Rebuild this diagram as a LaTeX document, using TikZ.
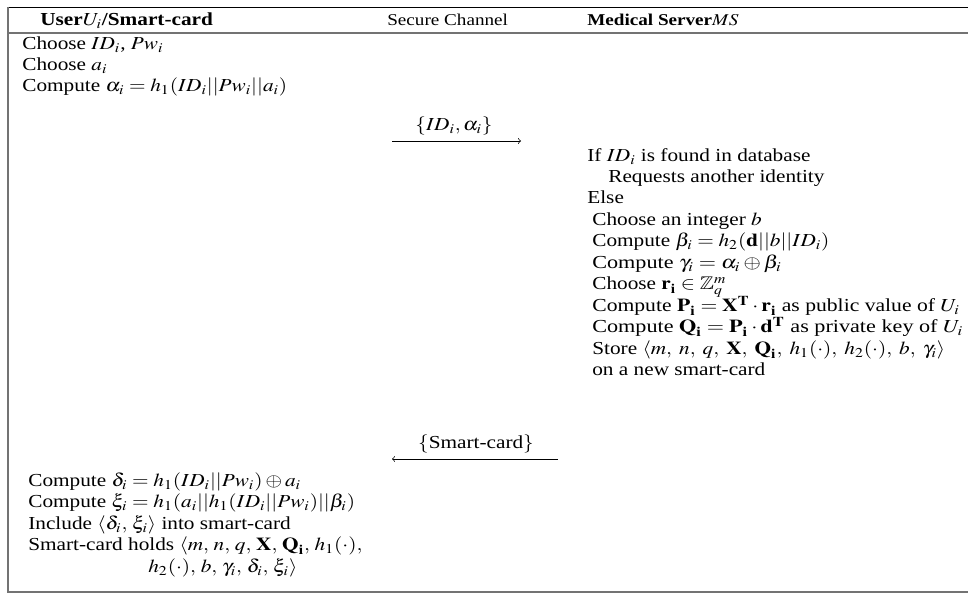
\documentclass[tikz,border=0pt]{standalone}
\usepackage{graphicx}
\usepackage{mathptmx}
\usepackage{amssymb}
\usepackage{fontspec}
\setmainfont{Liberation Serif}
\newcommand{\hs}[2][1.16]{\scalebox{#1}[1]{#2}}
\begin{document}
\begin{tikzpicture}[x=0.6pt,y=-0.6pt,
  txt/.style={anchor=base west,inner sep=0pt,font=\fontsize{11}{12}\selectfont},
  hdr/.style={anchor=base west,inner sep=0pt,font=\fontsize{9.9}{12}\selectfont},
  lbl/.style={anchor=base,inner sep=0pt,font=\fontsize{11}{12}\selectfont},
  rule/.style={draw=black!55,line width=0.8pt},
  msg/.style={line width=0.4pt}]
\useasboundingbox (0,0) rectangle (968,594);
% frame
\draw[line width=0.5pt] (7,7) -- (968,7);
\draw[rule] (7,33) -- (968,33);
\draw[rule] (8,7) -- (8,592);
\draw[rule] (7,592) -- (968,592);
% header
\node[txt] (h1) at (40,26) {\hs{\textbf{User}$U_i$\textbf{/Smart-card}}};
\node[hdr] (h2) at (387,26) {\hs{Secure Channel}};
\node[hdr] (h3) at (587,26) {\hs{\textbf{Medical Server}$MS$}};
% user, first part
\node[txt] (l1) at (22,50) {\hs{Choose $ID_i$, $Pw_i$}};
\node[txt] (l2) at (22,71) {\hs{Choose $a_i$}};
\node[txt] (l3) at (22,92) {\hs{Compute $\alpha_i = h_1(ID_i||Pw_i||a_i)$}};
% message 1
\coordinate (m1s) at (392,141);
\coordinate (m1e) at (521,141);
\draw[msg,->] (m1s) -- (m1e);
\node[lbl] (m1) at (454,131) {\hs{$\{ID_i, \alpha_i\}$}};
% server
\node[txt] (s1) at (587,162) {\hs{If $ID_i$ is found in database}};
\node[txt] (s2) at (608,183) {\hs{Requests another identity}};
\node[txt] (s3) at (587,204) {\hs{Else}};
\node[txt] (s4) at (592,226) {\hs{Choose an integer $b$}};
\node[txt] (s5) at (592,247) {\hs{Compute $\beta_i = h_2(\mathbf{d}||b||ID_i)$}};
\node[txt] (s6) at (592,269) {\hs[1.21]{Compute $\gamma_i = \alpha_i \oplus \beta_i$}};
\node[txt] (s7) at (592,290) {\hs{Choose $\mathbf{r_i} \in \mathbb{Z}_q^m$}};
\node[txt] (s8) at (592,312) {\hs[1.18]{Compute $\mathbf{P_i} = \mathbf{X^T}\cdot \mathbf{r_i}$ as public value of $U_i$}};
\node[txt] (s9) at (592,333) {\hs[1.21]{Compute $\mathbf{Q_i} = \mathbf{P_i}\cdot \mathbf{d^T}$ as private key of $U_i$}};
\node[txt] (s10) at (592,355) {\hs{Store $\langle m,\; n,\; q,\; \mathbf{X},\; \mathbf{Q_i},\; h_1(\cdot),\; h_2(\cdot),\; b,\; \gamma_i\rangle$}};
\node[txt] (s11) at (592,376) {\hs{on a new smart-card}};
% message 2
\coordinate (m2s) at (558,459);
\coordinate (m2e) at (392,459);
\draw[msg,->] (m2s) -- (m2e);
\node[lbl] (m2) at (476,449) {\hs{$\{$Smart-card$\}$}};
% user, second part
\node[txt] (b1) at (28,487) {\hs{Compute $\delta_i = h_1(ID_i||Pw_i) \oplus a_i$}};
\node[txt] (b2) at (28,508) {\hs{Compute $\xi_i = h_1(a_i||h_1(ID_i||Pw_i)||\beta_i)$}};
\node[txt] (b3) at (28,530) {\hs{Include $\langle \delta_i,\, \xi_i\rangle$ into smart-card}};
\node[txt] (b4) at (28,551) {\hs{Smart-card holds $\langle m,\, n,\, q,\, \mathbf{X},\, \mathbf{Q_i},\, h_1(\cdot),$}};
\node[txt] (b5) at (148,573) {\hs{$h_2(\cdot),\, b,\, \gamma_i,\, \delta_i,\, \xi_i\rangle$}};
\end{tikzpicture}
\end{document}
